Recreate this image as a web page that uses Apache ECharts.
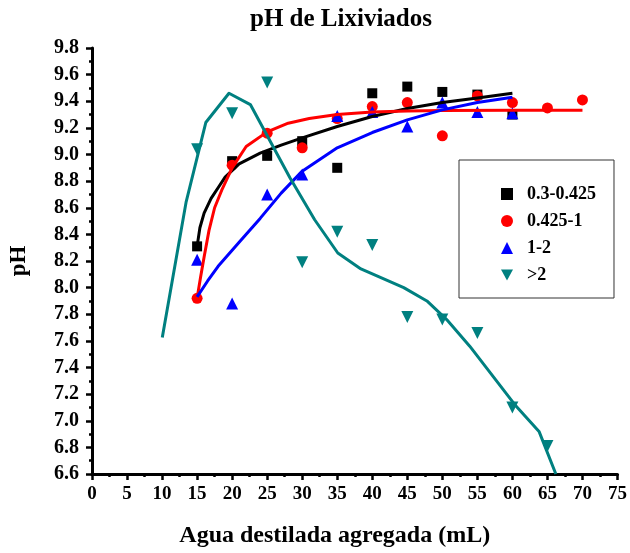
<!DOCTYPE html>
<html>
<head>
<meta charset="utf-8">
<script src="https://cdn.jsdelivr.net/npm/echarts@6/dist/echarts.min.js"></script>
<style>html,body{margin:0;padding:0;background:#fff;}#c{width:630px;height:553px;}</style>
</head>
<body>
<div id="c"></div>
<script>
// ---- data ----
const seriesNames = ['0.3-0.425', '0.425-1', '1-2', '>2'];
// measured points [mL, pH]
const pts03 = [[15,8.31],[20,8.95],[25,8.99],[30,9.10],[35,8.90],[40,9.46],[45,9.51],[50,9.47],[55,9.45],[60,9.30]];
const pts0425 = [[15,7.92],[20,8.92],[25,9.16],[30,9.05],[35,9.27],[40,9.36],[45,9.39],[50,9.14],[55,9.44],[60,9.39],[65,9.35],[70,9.41]];
const pts12 = [[15,8.21],[20,7.88],[25,8.70],[30,8.85],[35,9.29],[40,9.32],[45,9.21],[50,9.39],[55,9.32],[60,9.31]];
const ptsGt2 = [[15,9.04],[20,9.31],[25,9.54],[30,8.19],[35,8.42],[40,8.32],[45,7.78],[50,7.76],[55,7.66],[60,7.10],[65,6.81]];
// fitted curves
const fit03 = [[15,8.31],[15.4,8.45],[16.0,8.56],[17.0,8.67],[18.0,8.75],[19.0,8.83],[21.0,8.93],[24.0,9.01],[27.0,9.07],[30.0,9.125],[35.0,9.21],[40.0,9.285],[45.0,9.345],[50.0,9.39],[55.0,9.425],[60,9.46]];
const fit0425 = [[15,7.92],[15.5,8.08],[16.0,8.23],[16.7,8.43],[17.5,8.60],[18.5,8.73],[20.0,8.90],[22.0,9.06],[25.0,9.17],[28.0,9.235],[31.0,9.27],[35.0,9.30],[40.0,9.32],[45.0,9.327],[50.0,9.33],[60.0,9.332],[70,9.332]];
const fit12 = [[15,7.93],[16.5,8.05],[18.0,8.16],[21.0,8.34],[24.0,8.52],[27.0,8.71],[30.0,8.875],[35.0,9.05],[40.0,9.165],[45.0,9.26],[50.0,9.335],[55.0,9.39],[60,9.43]];
const fitGt2 = [[10.03,7.625],[13.42,8.64],[16.24,9.24],[19.55,9.46],[22.6,9.375],[28.25,8.825],[31.78,8.51],[35.08,8.26],[38.38,8.14],[44.49,8.00],[47.8,7.90],[50.62,7.76],[53.91,7.56],[60.51,7.11],[63.8,6.92],[66.2,6.60]];
const colors = ['#000000', '#ff0000', '#0000ff', '#008080'];
const xTitle = 'Agua destilada agregada (mL)';
const yTitle = 'pH';
const chartTitle = 'pH de Lixiviados';

const FONT = '"Liberation Serif", "Times New Roman", serif';
const chart = echarts.init(document.getElementById('c'), null, {renderer: 'canvas'});

function scatter(name, data, color, symbol, size, rotate) {
  return {
    name: name, type: 'scatter', data: data, symbol: symbol, symbolSize: size,
    symbolRotate: rotate || 0, itemStyle: {color: color, opacity: 1}, z: 2, silent: true
  };
}
function fit(name, data, color) {
  return {
    name: name, type: 'line', data: data, showSymbol: false, smooth: false,
    lineStyle: {color: color, width: 3, join: 'round'}, itemStyle: {color: color}, z: 3, silent: true
  };
}

chart.setOption({
  animation: false,
  backgroundColor: '#ffffff',
  graphic: [{
    type: 'text', x: 341, y: 7,
    style: {text: chartTitle, font: 'bold 25px ' + FONT, fill: '#000', textAlign: 'center', textVerticalAlign: 'top'}
  }],
  legend: {
    data: [
      {name: seriesNames[0]},
      {name: seriesNames[1]},
      {name: seriesNames[2]},
      {name: seriesNames[3], icon: 'path://M0,0 L10,0 L5,9 Z'}
    ],
    orient: 'vertical',
    left: 459, top: 160,
    padding: [25, 18, 14, 42],
    itemWidth: 12, itemHeight: 12, itemGap: 9,
    borderColor: '#333', borderWidth: 1,
    textStyle: {fontFamily: FONT, fontWeight: 'bold', fontSize: 18, color: '#000', lineHeight: 14, padding: [0, 0, 0, 9]}
  },
  grid: {left: 88, right: 12, top: 48, bottom: 78, containLabel: false},
  xAxis: {
    type: 'value', min: 0, max: 75, interval: 5,
    name: xTitle, nameLocation: 'middle', nameGap: 50,
    nameTextStyle: {fontFamily: FONT, fontWeight: 'bold', fontSize: 24, color: '#000', padding: [0, 40, 0, 0]},
    axisLine: {onZero: false, lineStyle: {color: '#000', width: 3}},
    axisTick: {inside: false, length: 6, lineStyle: {color: '#000', width: 2.5}},
    minorTick: {show: true, splitNumber: 2, length: 3, lineStyle: {color: '#000', width: 2.5}},
    splitLine: {show: false},
    axisLabel: {margin: 11, fontFamily: FONT, fontWeight: 'bold', fontSize: 19, color: '#000'}
  },
  yAxis: {
    type: 'value', min: 6.6, max: 9.8, interval: 0.2,
    name: yTitle, nameLocation: 'middle', nameGap: 61, nameRotate: 90,
    nameTextStyle: {fontFamily: FONT, fontWeight: 'bold', fontSize: 23, color: '#000'},
    axisLine: {onZero: false, lineStyle: {color: '#000', width: 3}},
    axisTick: {inside: false, length: 6, lineStyle: {color: '#000', width: 2.5}},
    minorTick: {show: true, splitNumber: 2, length: 3, lineStyle: {color: '#000', width: 2.5}},
    splitLine: {show: false},
    axisLabel: {margin: 13, fontFamily: FONT, fontWeight: 'bold', fontSize: 20, color: '#000',
      formatter: function (v) { return v.toFixed(1); }}
  },
  series: [
    scatter(seriesNames[0], pts03, colors[0], 'rect', 10),
    scatter(seriesNames[1], pts0425, colors[1], 'circle', 11),
    scatter(seriesNames[2], pts12, colors[2], 'triangle', 12),
    scatter(seriesNames[3], ptsGt2, colors[3], 'triangle', 12, 180),
    fit('fit ' + seriesNames[0], fit03, colors[0]),
    fit('fit ' + seriesNames[1], fit0425, colors[1]),
    fit('fit ' + seriesNames[2], fit12, colors[2]),
    fit('fit ' + seriesNames[3], fitGt2, colors[3])
  ]
});
</script>
</body>
</html>
